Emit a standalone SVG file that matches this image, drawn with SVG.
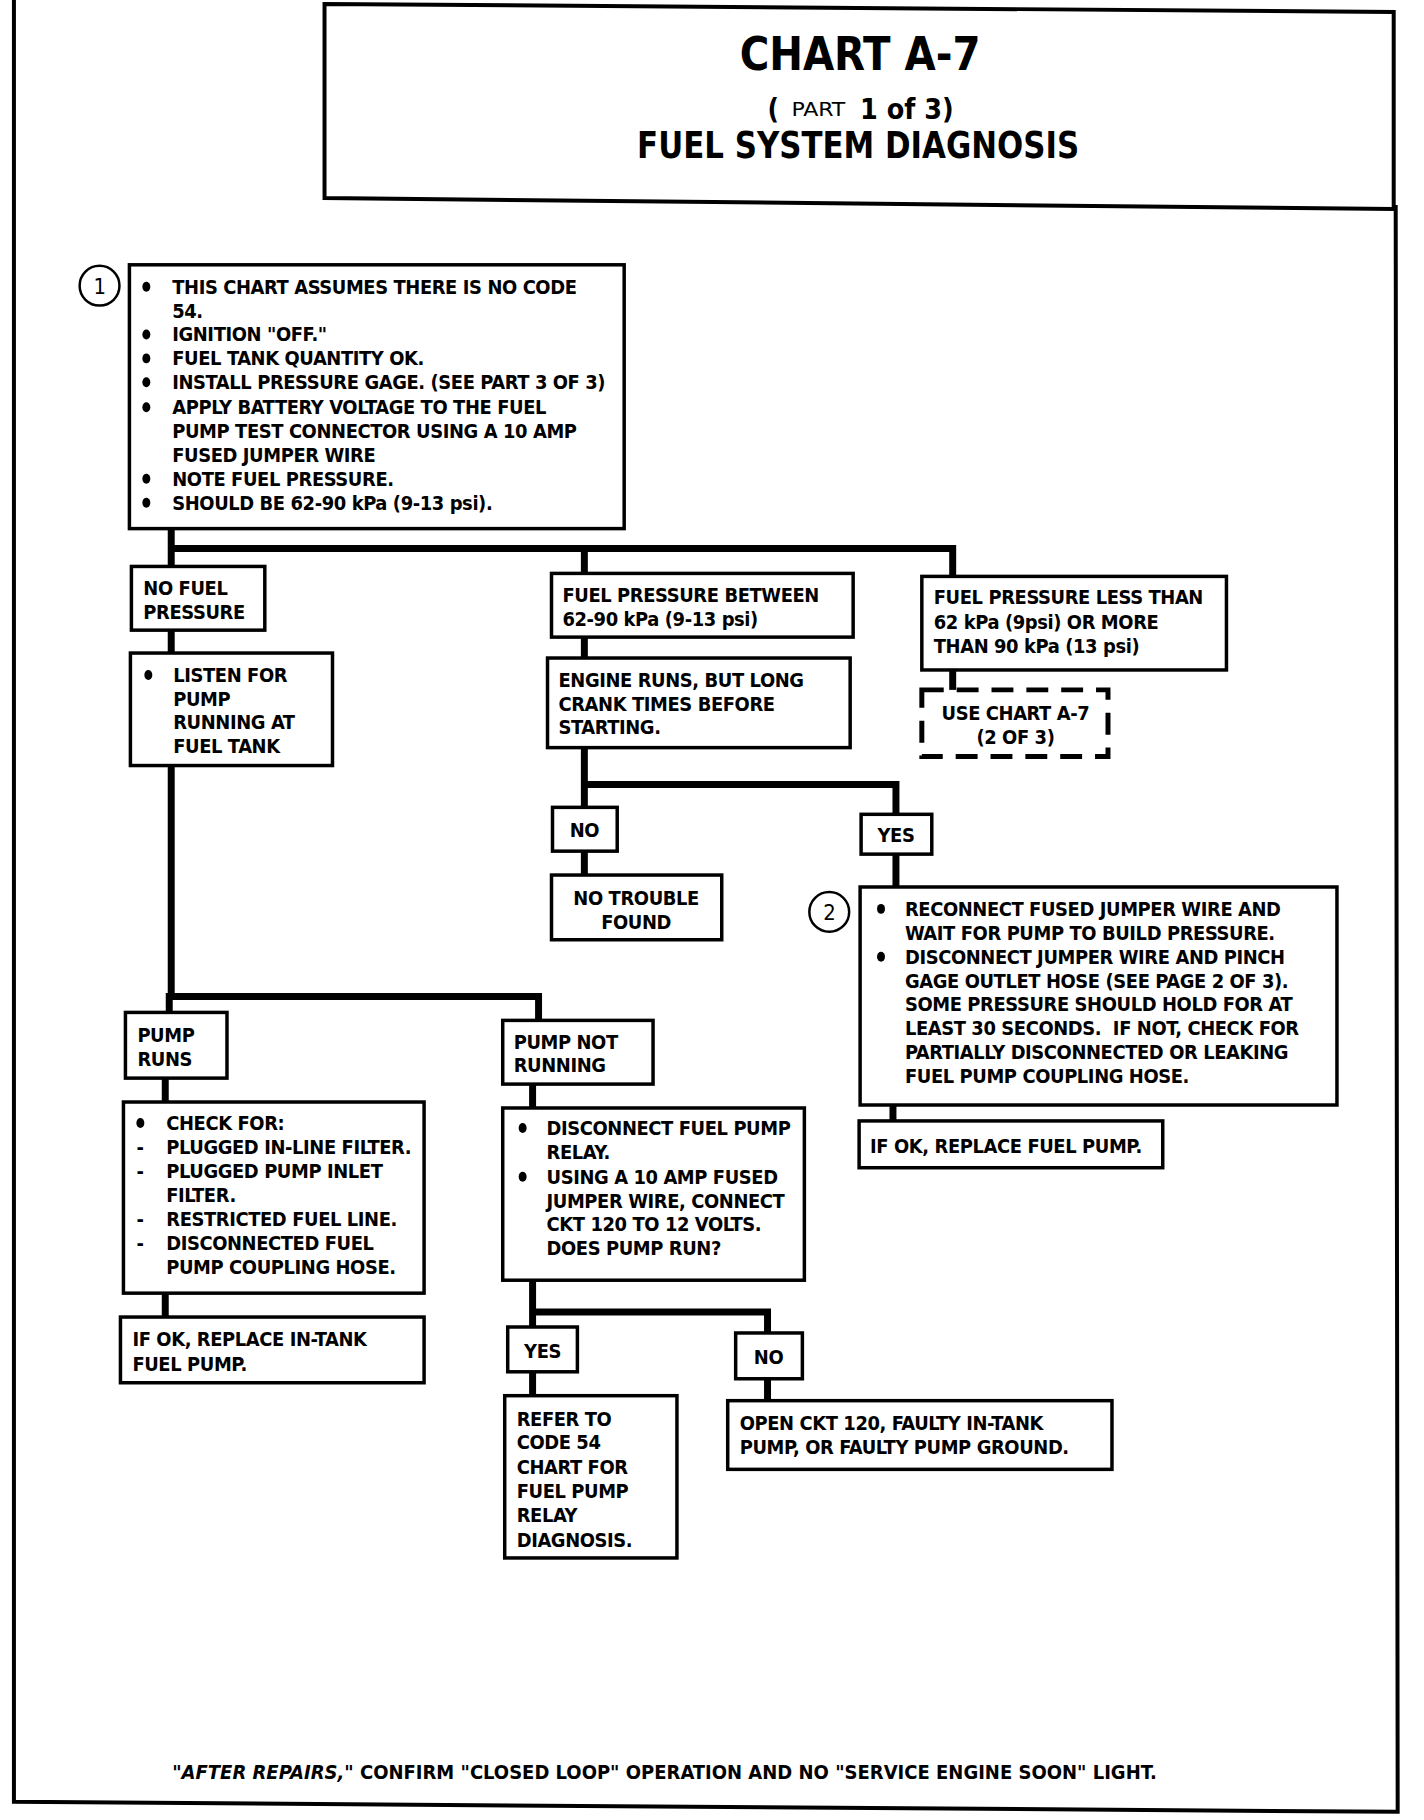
<svg xmlns="http://www.w3.org/2000/svg" width="1424" height="1820" viewBox="0 0 1424 1820">
<style>
.t{font-family:"Liberation Sans Narrow","DejaVu Sans Condensed","Liberation Sans",sans-serif;font-weight:700;font-size:20px;letter-spacing:-0.4px;fill:#000}
.c{text-anchor:middle}
.box{fill:#fff;stroke:#000;stroke-width:3.5}
.dash{fill:#fff;stroke:#000;stroke-width:5;stroke-dasharray:22 13}
.ln{fill:none;stroke:#000;stroke-width:7;stroke-linecap:square;stroke-linejoin:miter}
.fr{fill:none;stroke:#000;stroke-width:4}
.num{fill:#fff;stroke:#000;stroke-width:2.5}
</style>
<rect width="1424" height="1820" fill="#fff"/>
<g transform="scale(0.9955)">
<g id="frame">
<polyline class="fr" points="14,0 14,1810 1404,1820 1402,206"/>
<polygon class="fr" points="326,4 1400,12 1400,210 326,199"/>
</g>
<g id="title">
<text class="t c" x="864" y="70" style="font-size:46px;letter-spacing:0" textLength="242" lengthAdjust="spacingAndGlyphs">CHART A-7</text>
<text class="t" x="771" y="120" style="font-size:28px;letter-spacing:0">(</text>
<text class="t" x="795" y="117" style="font-size:19px;font-weight:400;letter-spacing:0" textLength="54" lengthAdjust="spacingAndGlyphs">PART</text>
<text class="t" x="864" y="120" style="font-size:28px;letter-spacing:0" textLength="94" lengthAdjust="spacingAndGlyphs">1 of 3)</text>
<text class="t c" x="862" y="159" style="font-size:38px;letter-spacing:0" textLength="444" lengthAdjust="spacingAndGlyphs">FUEL SYSTEM DIAGNOSIS</text>
</g>
<g id="connectors">
<path class="ln" d="M172,531 V569 M172,551 H957 V579 M587,551 V576"/>
<path class="ln" d="M172,633 V657 M172,769 V1001 H541 V1025 M170,1001 V1017 M166,1083 V1107 M166,1299 V1323"/>
<path class="ln" d="M535,1089 V1113 M535,1286 V1333 M535,1318 H771 V1339 M535,1378 V1402 M771,1385 V1407"/>
<path class="ln" d="M587,640 V661 M587,751 V811 M587,788 H900 V818 M587,855 V879 M900,858 V891 M897,1110 V1126"/>
<path class="ln" d="M957,673 V693"/>
</g>
<g id="n1">
<circle class="num" cx="100" cy="287" r="20"/>
<text class="t c" x="100" y="295" style="font-size:22px;font-weight:400">1</text>
<rect class="box" x="130" y="266" width="497" height="265"/>
<g class="t">
<text x="173" y="295">THIS CHART ASSUMES THERE IS NO CODE</text>
<text x="173" y="319">54.</text>
<text x="173" y="343">IGNITION "OFF."</text>
<text x="173" y="367">FUEL TANK QUANTITY OK.</text>
<text x="173" y="391">INSTALL PRESSURE GAGE. (SEE PART 3 OF 3)</text>
<text x="173" y="416">APPLY BATTERY VOLTAGE TO THE FUEL</text>
<text x="173" y="440">PUMP TEST CONNECTOR USING A 10 AMP</text>
<text x="173" y="464">FUSED JUMPER WIRE</text>
<text x="173" y="488">NOTE FUEL PRESSURE.</text>
<text x="173" y="512">SHOULD BE 62-90 kPa (9-13 psi).</text>
</g>
<g fill="#000">
<ellipse cx="147" cy="288" rx="4" ry="5"/>
<ellipse cx="147" cy="336" rx="4" ry="5"/>
<ellipse cx="147" cy="360" rx="4" ry="5"/>
<ellipse cx="147" cy="384" rx="4" ry="5"/>
<ellipse cx="147" cy="409" rx="4" ry="5"/>
<ellipse cx="147" cy="481" rx="4" ry="5"/>
<ellipse cx="147" cy="505" rx="4" ry="5"/>
</g>
</g>
<g id="n_nofuel">
<rect class="box" x="132" y="569" width="134" height="64"/>
<text class="t" x="144" y="598">NO FUEL</text>
<text class="t" x="144" y="622">PRESSURE</text>
</g>
<g id="n_listen">
<rect class="box" x="131" y="656" width="203" height="113"/>
<ellipse cx="149" cy="678" rx="4" ry="5"/>
<text class="t" x="174" y="685">LISTEN FOR</text>
<text class="t" x="174" y="709">PUMP</text>
<text class="t" x="174" y="732">RUNNING AT</text>
<text class="t" x="174" y="756">FUEL TANK</text>
</g>
<g id="n_pumpruns">
<rect class="box" x="126" y="1017" width="102" height="66"/>
<text class="t" x="138" y="1047">PUMP</text>
<text class="t" x="138" y="1071">RUNS</text>
</g>
<g id="n_check">
<rect class="box" x="124" y="1107" width="302" height="192"/>
<ellipse cx="141" cy="1128" rx="4" ry="5"/>
<g class="t">
<text x="167" y="1135">CHECK FOR:</text>
<text x="137" y="1159">-</text><text x="167" y="1159">PLUGGED IN-LINE FILTER.</text>
<text x="137" y="1183">-</text><text x="167" y="1183">PLUGGED PUMP INLET</text>
<text x="167" y="1207">FILTER.</text>
<text x="137" y="1232">-</text><text x="167" y="1232">RESTRICTED FUEL LINE.</text>
<text x="137" y="1256">-</text><text x="167" y="1256">DISCONNECTED FUEL</text>
<text x="167" y="1280">PUMP COUPLING HOSE.</text>
</g>
</g>
<g id="n_ok_intank">
<rect class="box" x="121" y="1323" width="305" height="66"/>
<text class="t" x="133" y="1352">IF OK, REPLACE IN-TANK</text>
<text class="t" x="133" y="1377">FUEL PUMP.</text>
</g>
<g id="n_pumpnot">
<rect class="box" x="505" y="1025" width="151" height="64"/>
<text class="t" x="516" y="1054">PUMP NOT</text>
<text class="t" x="516" y="1077">RUNNING</text>
</g>
<g id="n_disconnect">
<rect class="box" x="505" y="1113" width="303" height="173"/>
<ellipse cx="525" cy="1133" rx="4" ry="5"/>
<ellipse cx="525" cy="1182" rx="4" ry="5"/>
<g class="t">
<text x="549" y="1140">DISCONNECT FUEL PUMP</text>
<text x="549" y="1164">RELAY.</text>
<text x="549" y="1189">USING A 10 AMP FUSED</text>
<text x="549" y="1213">JUMPER WIRE, CONNECT</text>
<text x="549" y="1237">CKT 120 TO 12 VOLTS.</text>
<text x="549" y="1261">DOES PUMP RUN?</text>
</g>
</g>
<g id="n_yes2">
<rect class="box" x="510" y="1333" width="70" height="45"/>
<text class="t c" x="545" y="1364">YES</text>
</g>
<g id="n_no2">
<rect class="box" x="739" y="1339" width="67" height="46"/>
<text class="t c" x="772" y="1370">NO</text>
</g>
<g id="n_refer">
<rect class="box" x="507" y="1402" width="173" height="163"/>
<g class="t">
<text x="519" y="1432">REFER TO</text>
<text x="519" y="1456">CODE 54</text>
<text x="519" y="1481">CHART FOR</text>
<text x="519" y="1505">FUEL PUMP</text>
<text x="519" y="1529">RELAY</text>
<text x="519" y="1554">DIAGNOSIS.</text>
</g>
</g>
<g id="n_open">
<rect class="box" x="731" y="1407" width="386" height="69"/>
<text class="t" x="743" y="1436">OPEN CKT 120, FAULTY IN-TANK</text>
<text class="t" x="743" y="1461">PUMP, OR FAULTY PUMP GROUND.</text>
</g>
<g id="n_between">
<rect class="box" x="554" y="576" width="303" height="64"/>
<text class="t" x="565" y="605">FUEL PRESSURE BETWEEN</text>
<text class="t" x="565" y="629">62-90 kPa (9-13 psi)</text>
</g>
<g id="n_engine">
<rect class="box" x="550" y="661" width="304" height="90"/>
<text class="t" x="561" y="690">ENGINE RUNS, BUT LONG</text>
<text class="t" x="561" y="714">CRANK TIMES BEFORE</text>
<text class="t" x="561" y="737">STARTING.</text>
</g>
<g id="n_no1">
<rect class="box" x="555" y="811" width="65" height="44"/>
<text class="t c" x="587" y="841">NO</text>
</g>
<g id="n_notrouble">
<rect class="box" x="554" y="879" width="171" height="65"/>
<text class="t c" x="639" y="909">NO TROUBLE</text>
<text class="t c" x="639" y="933">FOUND</text>
</g>
<g id="n_yes1">
<rect class="box" x="865" y="818" width="71" height="40"/>
<text class="t c" x="900" y="846">YES</text>
</g>
<g id="n2">
<circle class="num" cx="833" cy="916" r="20"/>
<text class="t c" x="833" y="924" style="font-size:22px;font-weight:400">2</text>
<rect class="box" x="864" y="891" width="479" height="219"/>
<ellipse cx="885" cy="913" rx="4" ry="5"/>
<ellipse cx="885" cy="961" rx="4" ry="5"/>
<g class="t">
<text x="909" y="920">RECONNECT FUSED JUMPER WIRE AND</text>
<text x="909" y="944">WAIT FOR PUMP TO BUILD PRESSURE.</text>
<text x="909" y="968">DISCONNECT JUMPER WIRE AND PINCH</text>
<text x="909" y="992">GAGE OUTLET HOSE (SEE PAGE 2 OF 3).</text>
<text x="909" y="1016">SOME PRESSURE SHOULD HOLD FOR AT</text>
<text x="909" y="1040" xml:space="preserve">LEAST 30 SECONDS.  IF NOT, CHECK FOR</text>
<text x="909" y="1064">PARTIALLY DISCONNECTED OR LEAKING</text>
<text x="909" y="1088">FUEL PUMP COUPLING HOSE.</text>
</g>
</g>
<g id="n_okfuel">
<rect class="box" x="863" y="1126" width="305" height="47"/>
<text class="t" x="874" y="1158">IF OK, REPLACE FUEL PUMP.</text>
</g>
<g id="n_less">
<rect class="box" x="926" y="579" width="306" height="94"/>
<text class="t" x="938" y="607">FUEL PRESSURE LESS THAN</text>
<text class="t" x="938" y="632">62 kPa (9psi) OR MORE</text>
<text class="t" x="938" y="656">THAN 90 kPa (13 psi)</text>
</g>
<g id="n_usechart">
<rect class="dash" x="926" y="693" width="187" height="67"/>
<text class="t c" x="1020" y="723">USE CHART A-7</text>
<text class="t c" x="1020" y="747">(2 OF 3)</text>
</g>
<g id="footer">
<text class="t" x="173" y="1787" style="font-size:19px;letter-spacing:0" textLength="989" lengthAdjust="spacingAndGlyphs"><tspan font-style="italic">"AFTER REPAIRS,"</tspan> CONFIRM "CLOSED LOOP" OPERATION AND NO "SERVICE ENGINE SOON" LIGHT.</text>
</g>
</g>
</svg>
